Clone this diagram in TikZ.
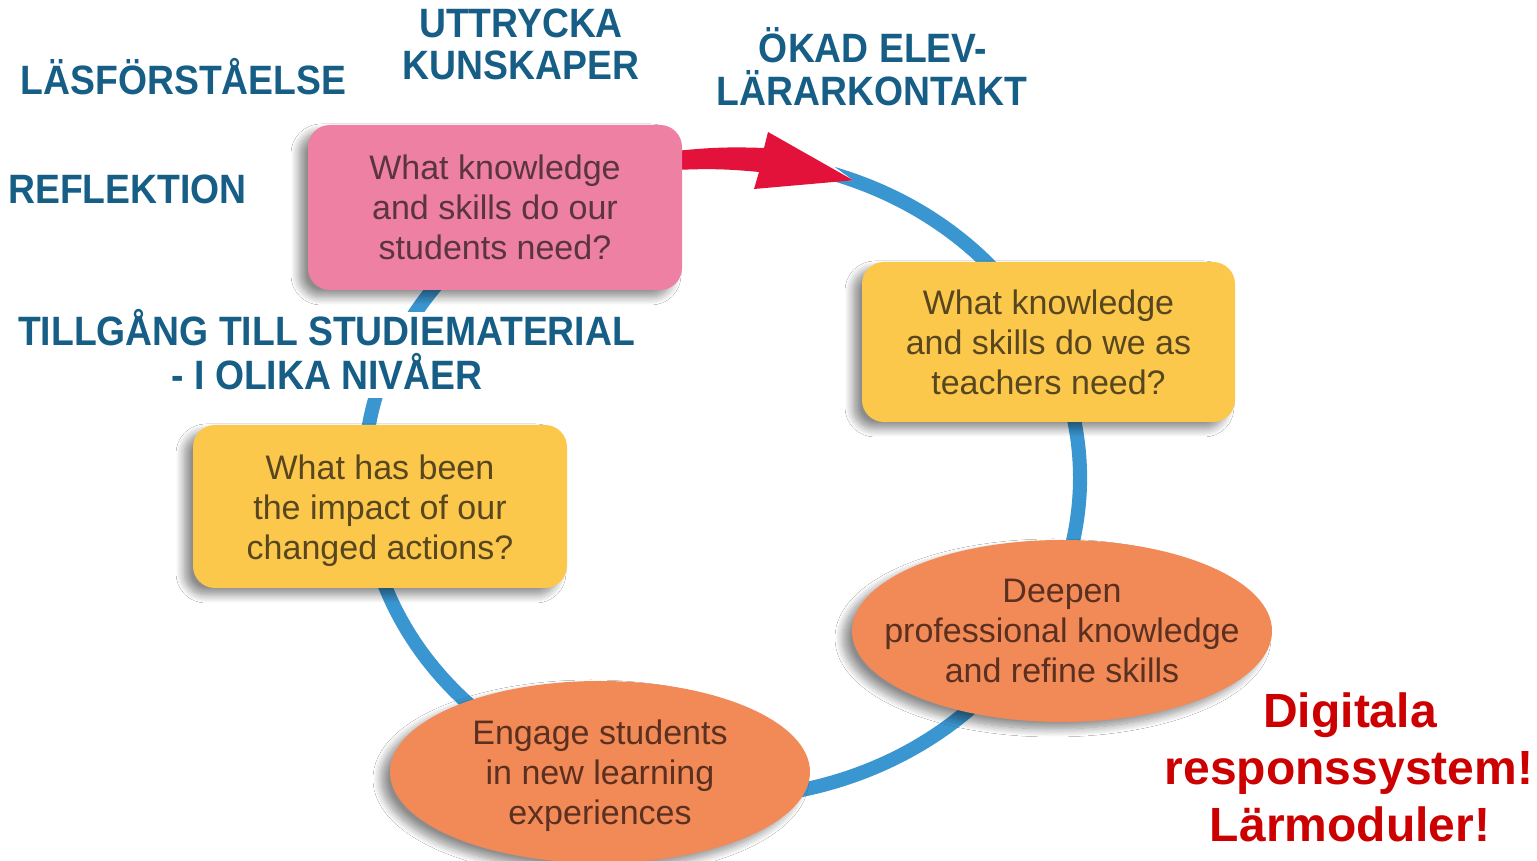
\documentclass[tikz,border=0pt]{standalone}
\usepackage{fontspec}
\setmainfont{Liberation Sans}
\newfontfamily\condfont[FakeStretch=0.91]{Liberation Sans}
\usetikzlibrary{shapes.geometric,shadows.blur}
\definecolor{pinkfill}{HTML}{EE80A4}
\definecolor{yellowfill}{HTML}{FCC84B}
\definecolor{orangefill}{HTML}{F18A56}
\definecolor{ringblue}{HTML}{3A96D0}
\definecolor{arrowred}{HTML}{E2123B}
\definecolor{pinktext}{HTML}{5A3440}
\definecolor{yellowtext}{HTML}{57461F}
\definecolor{orangetext}{HTML}{5B3020}
\definecolor{labelblue}{HTML}{165E86}
\definecolor{notered}{HTML}{CC0000}
\tikzset{
  shade/.style={blur shadow={shadow xshift=-9pt, shadow yshift=-7pt, shadow blur radius=8pt, shadow blur steps=12, shadow opacity=45}},
  qbox/.style={rounded corners=22pt, inner sep=0pt, align=center, shade, font=\fontsize{34}{40}\selectfont},
  oval/.style={ellipse, fill=orangefill, inner sep=0pt, minimum width=420pt, minimum height=182pt, shade},
  ovaltext/.style={align=center, text=orangetext, font=\fontsize{34}{40}\selectfont},
  biglabel/.style={text=labelblue, font=\condfont\bfseries\fontsize{41}{44}\selectfont, anchor=base, inner sep=0pt},
  rednote/.style={text=notered, font=\bfseries\fontsize{48}{57}\selectfont, anchor=base, inner sep=0pt},
}
\begin{document}
\begin{tikzpicture}[x=1pt,y=1pt]
\useasboundingbox[fill=white] (0,0) rectangle (1537,861);

% blue cycle ring
\begin{scope}[shift={(722,383)}]
  \fill[ringblue] (72:365 and 327)
    arc[start angle=72, end angle=-222, x radius=365, y radius=327]
    -- (-222:351 and 313)
    arc[start angle=-222, end angle=72, x radius=351, y radius=313]
    -- (68.5:358 and 320) -- cycle;
  \coordinate (ringstart) at (68.5:358 and 320);
\end{scope}

% white patch behind the long label
\fill[white] (12,463) rectangle (642,549);

% red arrow from the pink box into the ring
\fill[arrowred] (676,710) to[bend left=4] (764,713) -- (768,729) -- (ringstart) -- (754,672) -- (759,689) to[bend right=4] (676,691) -- cycle;

% boxes
\node[qbox, fill=pinkfill, text=pinktext, minimum width=374pt, minimum height=165pt] (students) at (495,653.5)
  {What knowledge\\and skills do our\\students need?};
\node[qbox, fill=yellowfill, text=yellowtext, minimum width=373pt, minimum height=160pt] (teachers) at (1048.5,519)
  {What knowledge\\and skills do we as\\teachers need?};
\node[qbox, fill=yellowfill, minimum width=374pt, minimum height=163pt] (impact) at (380,354.5) {};
\node[align=center, text=yellowtext, font=\fontsize{34}{40}\selectfont] at ([yshift=-4pt]impact.center)
  {What has been\\the impact of our\\changed actions?};
\node[oval] (deepen) at (1062,230) {};
\node[ovaltext] at (deepen) {Deepen\\professional knowledge\\and refine skills};
\node[oval] (engage) at (600,89) {};
\node[ovaltext] at ([yshift=-4pt]engage.center) {Engage students\\in new learning\\experiences};

% blue labels
\node[biglabel] (las) at (183.5,766) {LÄSFÖRSTÅELSE};
\node[biglabel] (utt1) at (521,823) {UTTRYCKA};
\node[biglabel] (utt2) at (521,781) {KUNSKAPER};
\node[biglabel] (okad1) at (873,798) {ÖKAD ELEV-};
\node[biglabel] (okad2) at (872,755) {LÄRARKONTAKT};
\node[biglabel] (refl) at (127.5,657) {REFLEKTION};
\node[biglabel] (till1) at (326.5,515) {TILLGÅNG TILL STUDIEMATERIAL};
\node[biglabel] (till2) at (327,471) {- I OLIKA NIVÅER};

% red notes
\node[rednote] (dig1) at (1350,133) {Digitala};
\node[rednote] (dig2) at (1349,76) {responssystem!};
\node[rednote] (dig3) at (1350,19) {Lärmoduler!};
\end{tikzpicture}
\end{document}
